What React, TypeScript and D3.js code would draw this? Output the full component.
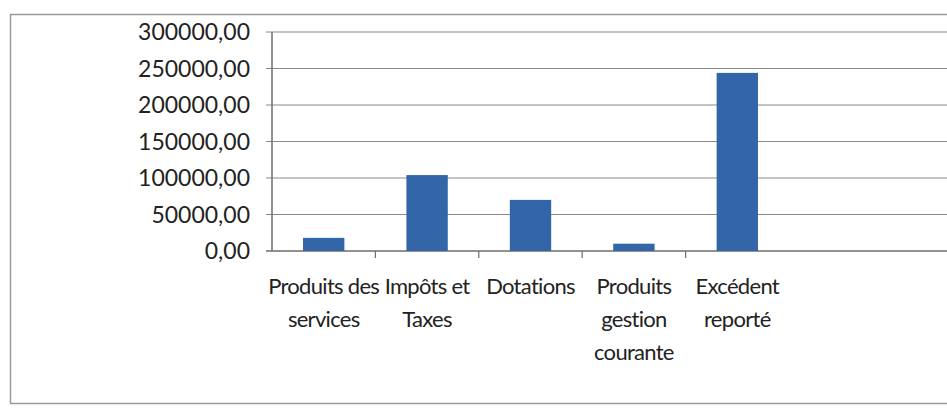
import React from "react";
import * as d3 from "d3";

const categories = [
  "Produits des services",
  "Impôts et Taxes",
  "Dotations",
  "Produits gestion courante",
  "Excédent reporté",
];
const categoryLines = [
  ["Produits des", "services"],
  ["Impôts et", "Taxes"],
  ["Dotations"],
  ["Produits", "gestion", "courante"],
  ["Excédent", "reporté"],
];
const values = [18000, 104000, 70000, 10000, 244000];
const yTicks = [0, 50000, 100000, 150000, 200000, 250000, 300000];

const W = 947;
const H = 410;
const left = 272;
const top = 32;
const bottom = 251;
const bandW = 103.4;
const gridRight = 947;

export default function App() {
  const x = d3
    .scaleBand<string>()
    .domain(categories)
    .range([left, left + bandW * categories.length])
    .paddingInner(0.6)
    .paddingOuter(0.3);
  const xb = d3
    .scaleBand<string>()
    .domain(categories)
    .range([left, left + bandW * categories.length]);
  const y = d3.scaleLinear().domain([0, 300000]).range([bottom, top]);
  const fmt = (v: number) => v.toFixed(2).replace(".", ",");
  const font = "Lato, 'Open Sans', sans-serif";

  return (
    <svg
      width={W}
      height={H}
      style={{ position: "absolute", left: 0, top: 0, background: "#fff" }}
    >
      <rect x={10.5} y={14.5} width={960} height={389} fill="#fff" stroke="#9a9a9a" strokeWidth={1.5} />
      {yTicks.map((t) => (
        <g key={t}>
          <line x1={left - 6} x2={gridRight} y1={y(t)} y2={y(t)} stroke={t === 0 ? "#6e6e6e" : "#8a8a8a"} strokeWidth={t === 0 ? 1.5 : 1.2} />
          <text
            x={250}
            y={y(t)}
            dy="0.36em"
            textAnchor="end"
            fontFamily={font}
            fontSize={23}
            fill="#222"
          >
            {fmt(t)}
          </text>
        </g>
      ))}
      <line x1={left} x2={left} y1={top} y2={bottom} stroke="#6e6e6e" strokeWidth={1.5} />
      {categories.slice(0, -1).map((c) => (
        <line
          key={"tk" + c}
          x1={(xb(c) as number) + bandW}
          x2={(xb(c) as number) + bandW}
          y1={bottom}
          y2={bottom + 7}
          stroke="#6e6e6e"
          strokeWidth={1.2}
        />
      ))}
      {categories.map((c, i) => (
        <rect
          key={"b" + c}
          x={x(c)}
          y={y(values[i])}
          width={x.bandwidth()}
          height={y(0) - y(values[i])}
          fill="#3266a8"
        />
      ))}
      {categories.map((c, i) => (
        <text
          key={"l" + c}
          textAnchor="middle"
          fontFamily={font}
          fontSize={22}
          letterSpacing={-0.7}
          fill="#222"
        >
          {categoryLines[i].map((ln, j) => (
            <tspan key={j} x={(xb(c) as number) + bandW / 2} y={294 + j * 33}>
              {ln}
            </tspan>
          ))}
        </text>
      ))}
    </svg>
  );
}
